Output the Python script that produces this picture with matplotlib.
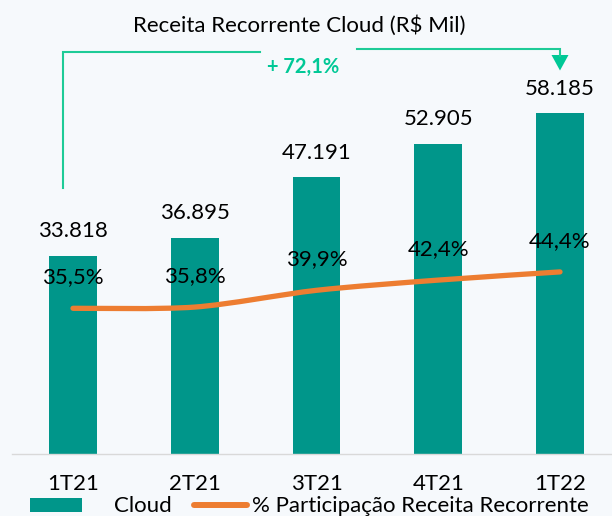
import matplotlib
matplotlib.use("Agg")
import matplotlib.pyplot as plt
from matplotlib.path import Path
from matplotlib.patches import PathPatch, Patch, Polygon
from matplotlib.lines import Line2D

# ---- data ----
categories = ["1T21", "2T21", "3T21", "4T21", "1T22"]
cloud = [33818, 36895, 47191, 52905, 58185]
share_pct = [35.5, 35.8, 39.9, 42.4, 44.4]
title_text = "Receita Recorrente Cloud (R$ Mil)"
growth_text = "+ 72,1%"
legend_labels = ["Cloud", "% Participação Receita Recorrente"]

# ---- style ----
BG = "#F6F9FC"
TEAL = "#00968A"
ORANGE = "#ED7D31"
GREEN = "#1ECB97"
FONT = "Lato"
FS = 16
FSPX = FS * 100 / 72

plt.rcParams["font.family"] = [FONT, "DejaVu Sans"]

W, H = 612, 516
fig = plt.figure(figsize=(W / 100, H / 100), dpi=100, facecolor=BG)

ax_left, ax_right = 12, 612
base_y, top_y = 453.5, 40
ax = fig.add_axes([ax_left / W, (H - base_y) / H, (ax_right - ax_left) / W, (base_y - top_y) / H])
ax.set_facecolor("none")

x = list(range(len(categories)))
ax.bar(x, cloud, width=0.394, color=TEAL, zorder=2)
ax.set_xlim(-0.501, 4.427)
ax.set_ylim(0, 70680)
ax.set_xticks(x)
ax.set_xticklabels(categories, fontsize=FS, color="black")
ax.tick_params(axis="x", length=0, pad=15)
ax.set_yticks([])
for s in ["top", "left", "right"]:
    ax.spines[s].set_visible(False)
ax.spines["bottom"].set_color("#D9D9D9")
ax.spines["bottom"].set_linewidth(1.0)

for xi, v in zip(x, cloud):
    ax.annotate(f"{v:,}".replace(",", "."), (xi, v), xytext=(0, 18.5 * 0.72),
                textcoords="offset points", ha="center", va="baseline",
                fontsize=FS, color="black")

ax2 = ax.twinx()
ax2.set_ylim(0, 101.1)
ax2.set_yticks([])
for s in ["top", "left", "right", "bottom"]:
    ax2.spines[s].set_visible(False)

# smooth curve (Catmull-Rom -> cubic Bezier) through the data points
pts = list(zip(x, share_pct))
verts = [pts[0]]
codes = [Path.MOVETO]
n = len(pts)
k = 7.0
for i in range(n - 1):
    p0 = pts[i - 1] if i > 0 else pts[i]
    p1 = pts[i]
    p2 = pts[i + 1]
    p3 = pts[i + 2] if i + 2 < n else pts[i + 1]
    c1 = (p1[0] + (p2[0] - p0[0]) / k, p1[1] + (p2[1] - p0[1]) / k)
    c2 = (p2[0] - (p3[0] - p1[0]) / k, p2[1] - (p3[1] - p1[1]) / k)
    verts += [c1, c2, p2]
    codes += [Path.CURVE4] * 3
ax2.add_patch(PathPatch(Path(verts, codes), fill=False, edgecolor=ORANGE,
                        lw=3.8, capstyle="round", joinstyle="round", zorder=3))

for xi, p in zip(x, share_pct):
    ax2.annotate(f"{p:.1f}".replace(".", ",") + "%", (xi, p), xytext=(0, 25 * 0.72),
                 textcoords="offset points", ha="center", va="baseline",
                 fontsize=FS, color="black", zorder=4)

# ---- overlay in pixel coordinates for title, bracket ----
ov = fig.add_axes([0, 0, 1, 1])
ov.set_xlim(0, W)
ov.set_ylim(H, 0)
ov.axis("off")
ov.set_facecolor("none")

ov.text(299, 32, title_text, ha="center", va="baseline", fontsize=FS, color="black")
ov.plot([63, 63, 260], [188, 52, 52], color=GREEN, lw=1.5, solid_joinstyle="miter")
ov.plot([357, 560, 560], [49, 49, 56], color=GREEN, lw=1.5, solid_joinstyle="miter")
ov.add_patch(Polygon([(551.5, 55), (568.5, 55), (560, 70.5)], closed=True,
                     facecolor="#00C896", edgecolor="none"))
ov.text(303.5, 73, growth_text, ha="center", va="baseline", fontsize=14.5,
        fontweight="bold", color="#00C896")

# ---- legend ----
fig.legend(handles=[Patch(facecolor=TEAL, edgecolor="none")], labels=[legend_labels[0]],
           loc="center left", bbox_to_anchor=(30 / W, 1 - 506.5 / H), frameon=False,
           fontsize=FS, handlelength=52 / FSPX, handleheight=13 / FSPX,
           handletextpad=32 / FSPX, borderpad=0, borderaxespad=0)
fig.legend(handles=[Line2D([0], [0], color=ORANGE, lw=4.3, solid_capstyle="round")],
           labels=[legend_labels[1]],
           loc="center left", bbox_to_anchor=(194 / W, 1 - 506.5 / H), frameon=False,
           fontsize=FS, handlelength=53 / FSPX, handletextpad=5 / FSPX,
           borderpad=0, borderaxespad=0)

fig.savefig("out.png", dpi=100, facecolor=BG)
